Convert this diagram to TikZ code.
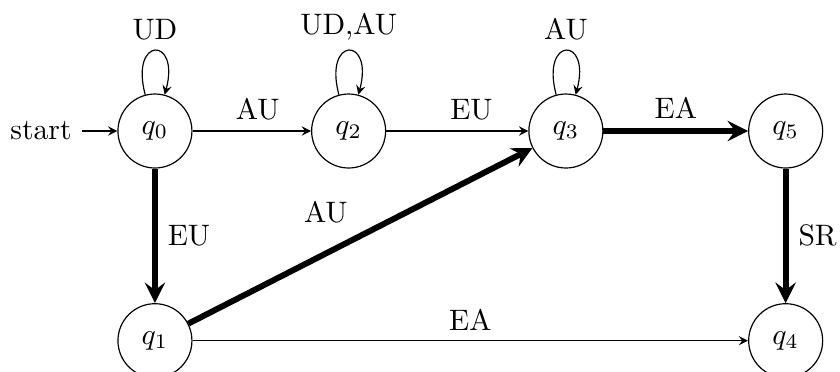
\documentclass[tikz,border=0pt]{standalone}
\usetikzlibrary{positioning,arrows}
\begin{document}
\begin{tikzpicture}[
  >=stealth,
  statenode/.style={circle,draw,minimum size=25pt,inner sep=0pt},
  transition/.style={->},
  mainpath/.style={->,line width=2pt},
  every loop/.style={->,min distance=5mm,looseness=8}
]
  \useasboundingbox (-1.84,-2.85) rectangle (8.135,1.556);

  \node[statenode] (q0) at (0,0) {$q_0$};
  \node[statenode] (q2) at (2.3,0) {$q_2$};
  \node[statenode] (q3) at (4.88,0) {$q_3$};
  \node[statenode] (q5) at (7.49,0) {$q_5$};
  \node[statenode] (q1) at (0,-2.49) {$q_1$};
  \node[statenode] (q4) at (7.49,-2.49) {$q_4$};
  \node[left=0.42cm of q0] (startlabel) {start};

  \draw[transition] (startlabel) -- (q0);
  \draw[transition] (q0) to[loop above] node[above] {UD} (q0);
  \draw[transition] (q2) to[loop above] node[above] {UD,AU} (q2);
  \draw[transition] (q3) to[loop above] node[above] {AU} (q3);

  \draw[transition] (q0) -- (q2) node[pos=0.55,above] {AU};
  \draw[transition] (q2) -- (q3) node[pos=0.6,above] {EU};
  \draw[mainpath] (q3) -- (q5) node[midway,above] {EA};
  \draw[mainpath] (q0) -- (q1) node[midway,right] {EU};
  \draw[mainpath] (q1) -- (q3) node[midway,above left] {AU};
  \draw[transition] (q1) -- (q4) node[midway,above] {EA};
  \draw[mainpath] (q5) -- (q4) node[midway,right] {SR};
\end{tikzpicture}
\end{document}
